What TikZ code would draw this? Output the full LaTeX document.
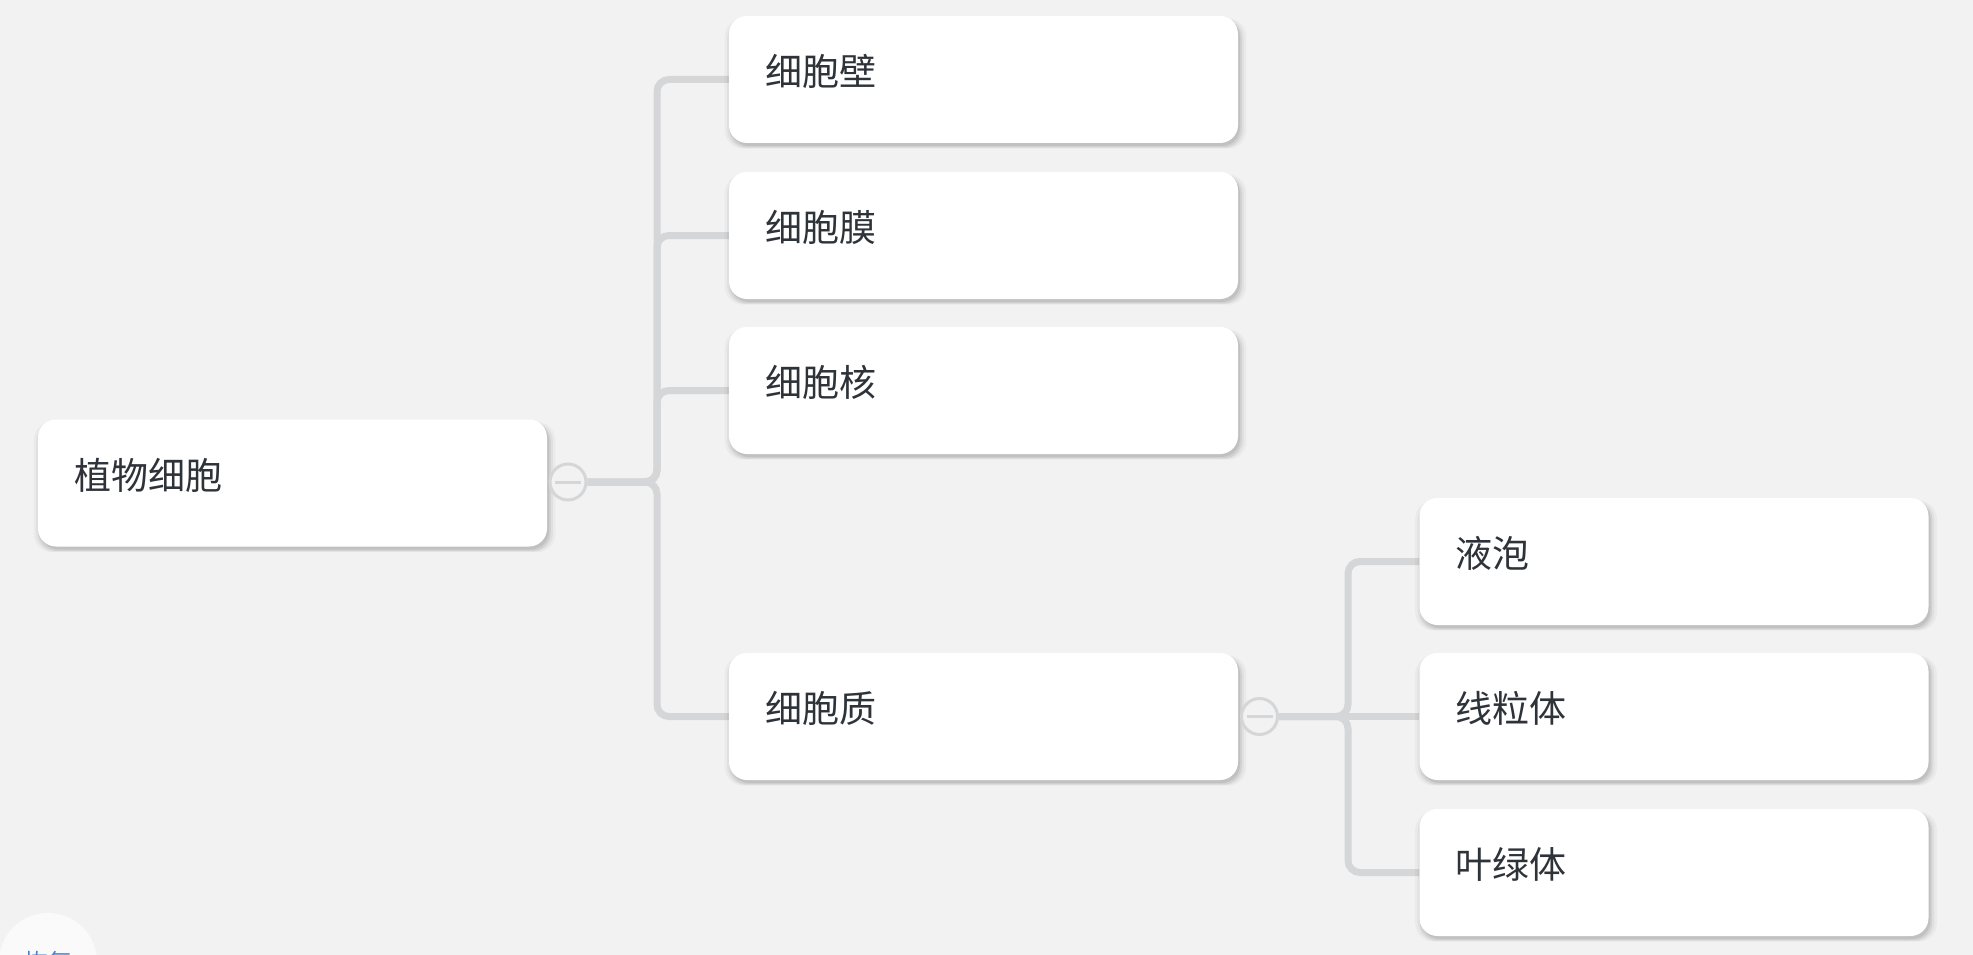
\documentclass[tikz,border=0pt]{standalone}
\usepackage{fontspec}
\newfontfamily\cjk{Noto Sans CJK SC}
\usetikzlibrary{shadows}
\definecolor{bgc}{HTML}{F2F2F2}
\definecolor{linec}{HTML}{D5D6D8}
\definecolor{txtc}{HTML}{2E333A}
\definecolor{btnc}{HTML}{4A7FD0}
\pgfdeclarelayer{canvas}
\pgfdeclarelayer{back}
\pgfsetlayers{canvas,back,main}
\tikzset{
  topic/.style={rectangle, rounded corners=18pt, fill=white,
    inner xsep=36pt, inner ysep=0pt, minimum height=127pt, text width=437pt,
    align=left, text height=30pt, text depth=18pt, text=txtc,
    font=\cjk\fontsize{37}{44}\selectfont,
    general shadow={fill=black, opacity=0.03, shadow xshift=2pt, shadow yshift=-4pt, shadow scale=1.025},
    general shadow={fill=black, opacity=0.04, shadow xshift=2pt, shadow yshift=-4pt, shadow scale=1.015},
    general shadow={fill=black, opacity=0.06, shadow xshift=2pt, shadow yshift=-4pt, shadow scale=1.007},
    general shadow={fill=black, opacity=0.08, shadow xshift=2pt, shadow yshift=-3pt}},
  conn/.style={draw=linec, line width=7pt, rounded corners=12pt},
  fold/.style={circle, draw=linec, line width=3pt, fill=bgc, minimum size=36pt, inner sep=0pt},
  minus/.style={draw=linec, line width=3pt}
}
\begin{document}
\begin{tikzpicture}[x=1pt,y=-1pt]
\useasboundingbox (0,0) rectangle (1973,955);
\clip (0,0) rectangle (1973,955);
\begin{pgfonlayer}{canvas}
\fill[bgc] (0,0) rectangle (1973,955);
\end{pgfonlayer}

% nodes
\node[topic] (root) at (292.5,483) {植物细胞};
\node[topic] (c1) at (983.5,79.5) {细胞壁};
\node[topic] (c2) at (983.5,235.5) {细胞膜};
\node[topic] (c3) at (983.5,390.5) {细胞核};
\node[topic] (c4) at (983.5,716.5) {细胞质};
\node[topic] (d1) at (1674,561.5) {液泡};
\node[topic] (d2) at (1674,716.5) {线粒体};
\node[topic] (d3) at (1674,872.5) {叶绿体};

% fold buttons
\node[fold] (f1) at (568,482) {};
\draw[minus] ([xshift=-13pt]f1.center) -- ([xshift=13pt]f1.center);
\node[fold] (f2) at (1259.5,716.5) {};
\draw[minus] ([xshift=-13pt]f2.center) -- ([xshift=13pt]f2.center);

\coordinate (t1) at (657,482);
\coordinate (t2) at (1348,716.5);

\begin{pgfonlayer}{back}
\draw[conn] (f1.east) -- (t1) |- (c1.west);
\draw[conn] (f1.east) -- (t1) |- (c2.west);
\draw[conn] (f1.east) -- (t1) |- (c3.west);
\draw[conn] (f1.east) -- (t1) |- (c4.west);
\draw[conn] (f2.east) -- (t2) |- (d1.west);
\draw[conn] (f2.east) -- (d2.west);
\draw[conn] (f2.east) -- (t2) |- (d3.west);
\end{pgfonlayer}

% bottom-left button (partly outside the view)
\node[circle, fill=white!60!bgc, minimum size=98pt, inner sep=0pt,
  text=btnc, font=\cjk\fontsize{24}{28}\selectfont] (btn) at (48,962) {恢复};
\end{tikzpicture}
\end{document}
